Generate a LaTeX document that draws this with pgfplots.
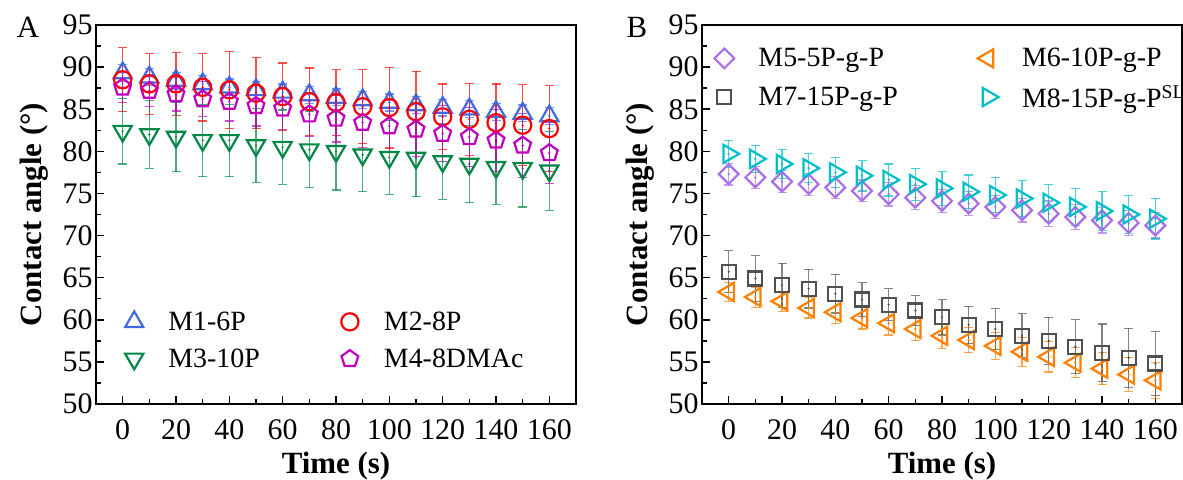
\documentclass[border=0pt]{standalone}
\usepackage{fontspec}
\setmainfont{Liberation Serif}
\usepackage{pgfplots}
\pgfplotsset{compat=1.18}
\usepackage{pgfplotstable}

\definecolor{cblue}{RGB}{65,105,225}
\definecolor{cred}{RGB}{255,0,0}
\definecolor{cgreen}{RGB}{0,135,70}
\definecolor{cpurple}{RGB}{190,0,190}
\definecolor{clav}{RGB}{170,110,230}
\definecolor{corange}{RGB}{255,128,0}
\definecolor{cgray}{RGB}{80,80,80}
\definecolor{ccyan}{RGB}{0,190,200}

\pgfplotstableread{
x m1 e1 m2 e2 m3 e3 m4 e4
0 89.3 1.0 88.5 3.8 82.4 3.9 87.6 1.8
10 88.8 1.0 88.0 3.6 82.0 4.0 87.2 1.9
20 88.4 1.0 88.0 3.7 81.7 4.1 86.8 2.0
30 88.0 1.0 87.6 4.0 81.3 4.3 86.2 2.1
40 87.6 1.0 87.3 4.6 81.3 4.3 85.9 2.3
50 87.3 1.0 86.9 4.2 80.7 4.4 85.4 2.4
60 87.0 1.0 86.5 4.0 80.5 4.4 85.1 2.5
70 86.7 1.0 85.9 4.0 80.2 4.5 84.4 2.6
80 86.4 1.0 85.8 3.9 80.0 4.6 83.9 2.8
90 86.1 1.0 85.3 4.4 79.6 4.4 83.4 2.9
100 85.8 1.0 85.2 4.8 79.3 4.4 83.0 3.0
110 85.5 1.0 84.7 4.8 79.2 4.6 82.6 3.2
120 85.2 1.0 84.1 3.9 78.8 4.5 82.1 3.3
130 85.0 1.0 83.8 4.3 78.5 4.6 81.7 3.5
140 84.7 1.0 83.4 4.6 78.1 4.4 81.3 3.7
150 84.5 1.0 83.1 4.8 78.0 4.6 80.7 3.8
160 84.2 1.0 82.7 5.1 77.7 4.7 79.8 3.6
}\dataA

\pgfplotstableread{
x m5 e5 m6 e6 m7 e7 m8 e8
0 77.3 1.3 63.3 1.1 65.7 2.5 79.7 1.6
10 76.9 1.3 62.7 1.2 64.9 2.7 79.1 1.6
20 76.4 1.3 62.2 1.2 64.1 2.6 78.5 1.7
30 76.1 1.3 61.4 1.2 63.7 2.3 78.0 1.7
40 75.7 1.3 60.9 1.3 63.1 2.3 77.5 1.8
50 75.3 1.3 60.2 1.3 62.4 2.0 77.1 1.8
60 74.9 1.4 59.6 1.4 61.8 1.9 76.6 1.9
70 74.5 1.4 58.9 1.4 61.1 1.8 76.1 1.9
80 74.1 1.4 58.1 1.5 60.3 2.1 75.6 2.0
90 73.8 1.4 57.6 1.5 59.4 2.2 75.2 2.0
100 73.4 1.4 56.9 1.6 58.9 2.4 74.8 2.1
110 73.0 1.4 56.2 1.7 58.1 2.6 74.4 2.1
120 72.6 1.5 55.6 1.8 57.5 2.8 73.9 2.2
130 72.2 1.5 54.9 1.8 56.8 3.2 73.4 2.2
140 71.8 1.5 54.2 1.9 56.1 3.4 72.9 2.3
150 71.5 1.5 53.5 2.0 55.5 3.5 72.5 2.3
160 71.2 1.5 52.8 2.1 54.8 3.8 72.0 2.4
}\dataB

\pgfplotsset{
 panel/.style={
  scale only axis, width=480bp, height=379bp,
  xmin=-10, xmax=170, ymin=50, ymax=95,
  xtick={0,20,...,160}, minor x tick num=1,
  ytick={50,55,...,95}, minor y tick num=1,
  tick align=inside, xtick pos=bottom, ytick pos=left,
  major tick length=8bp, minor tick length=5bp,
  axis line style={line width=1.8bp},
  tick style={line width=1.5bp, black},
  tick label style={font=\fontsize{30}{32}\selectfont},
  xticklabel style={yshift=-12bp},
  /pgf/number format/assume math mode=true,
  label style={font=\bfseries\fontsize{31}{33}\selectfont},
  xlabel={Time (s)}, ylabel={Contact angle (°)},
  xlabel style={yshift=-6bp},
  ylabel style={yshift=7bp},
  legend columns=2,
  legend style={draw=none, fill=none, font=\fontsize{28}{30}\selectfont,
    nodes={inner sep=0pt},
    /tikz/every even column/.append style={column sep=78bp},
    row sep=17bp, inner sep=0pt, cells={anchor=west}},
  legend image code/.code={\path (0bp,0bp) (44bp,0bp); \draw[##1] plot coordinates {(11bp,0bp)};},
 },
 ser/.style={color=#1, only marks, line width=2.2bp,
   error bars/y dir=both, error bars/y explicit,
   error bars/error bar style={line width=1.2bp, opacity=0.7},
   error bars/error mark options={rotate=90, mark size=4.5bp, line width=1.2bp}},
 dot/.style={color=#1, only marks, mark=*, mark size=0.9bp, forget plot},
}

\begin{document}
\begin{tikzpicture}
\path[use as bounding box] (0,0) rectangle (1183bp,480bp);

\begin{axis}[panel, at={(96bp,76bp)}, anchor=south west,
  legend style={at={(axis description cs:0.054,0.245)}, anchor=north west}]
\addplot[ser=cblue, mark=triangle, mark size=10.5bp] table[x=x, y=m1, y error=e1] {\dataA};
\addlegendentry{M1-6P}
\addplot[ser=cred, mark=o, mark size=8.6bp] table[x=x, y=m2, y error=e2] {\dataA};
\addlegendentry{M2-8P}
\addplot[ser=cgreen, mark=triangle, mark size=10.5bp, mark options={rotate=180}] table[x=x, y=m3, y error=e3] {\dataA};
\addlegendentry{M3-10P}
\addplot[ser=cpurple, mark=pentagon, mark size=8.8bp] table[x=x, y=m4, y error=e4] {\dataA};
\addlegendentry{M4-8DMAc}
\addplot[dot=cblue] table[x=x, y=m1] {\dataA};
\addplot[dot=cred] table[x=x, y=m2] {\dataA};
\addplot[dot=cgreen] table[x=x, y=m3] {\dataA};
\addplot[dot=cpurple] table[x=x, y=m4] {\dataA};
\end{axis}

\begin{axis}[panel, at={(702bp,76bp)}, anchor=south west,
  legend style={at={(axis description cs:0.021,0.939)}, anchor=north west}]
\addplot[ser=clav, mark=square, mark size=7bp, mark options={rotate=45}] table[x=x, y=m5, y error=e5] {\dataB};
\addlegendentry{M5-5P-g-P}
\addplot[ser=corange, mark=triangle, mark size=10.5bp, mark options={rotate=90}] table[x=x, y=m6, y error=e6] {\dataB};
\addlegendentry{M6-10P-g-P}
\addplot[ser=cgray, mark=square, mark size=7bp] table[x=x, y=m7, y error=e7] {\dataB};
\addlegendentry{M7-15P-g-P}
\addplot[ser=ccyan, mark=triangle, mark size=10.5bp, mark options={rotate=-90}] table[x=x, y=m8, y error=e8] {\dataB};
\addlegendentry{M8-15P-g-P\textsuperscript{SL}}
\addplot[dot=clav] table[x=x, y=m5] {\dataB};
\addplot[dot=corange] table[x=x, y=m6] {\dataB};
\addplot[dot=cgray] table[x=x, y=m7] {\dataB};
\addplot[dot=ccyan] table[x=x, y=m8] {\dataB};
\end{axis}

\node[font=\fontsize{31}{33}\selectfont] at (28bp,453bp) {A};
\node[font=\fontsize{31}{33}\selectfont] at (637bp,453bp) {B};
\end{tikzpicture}
\end{document}
